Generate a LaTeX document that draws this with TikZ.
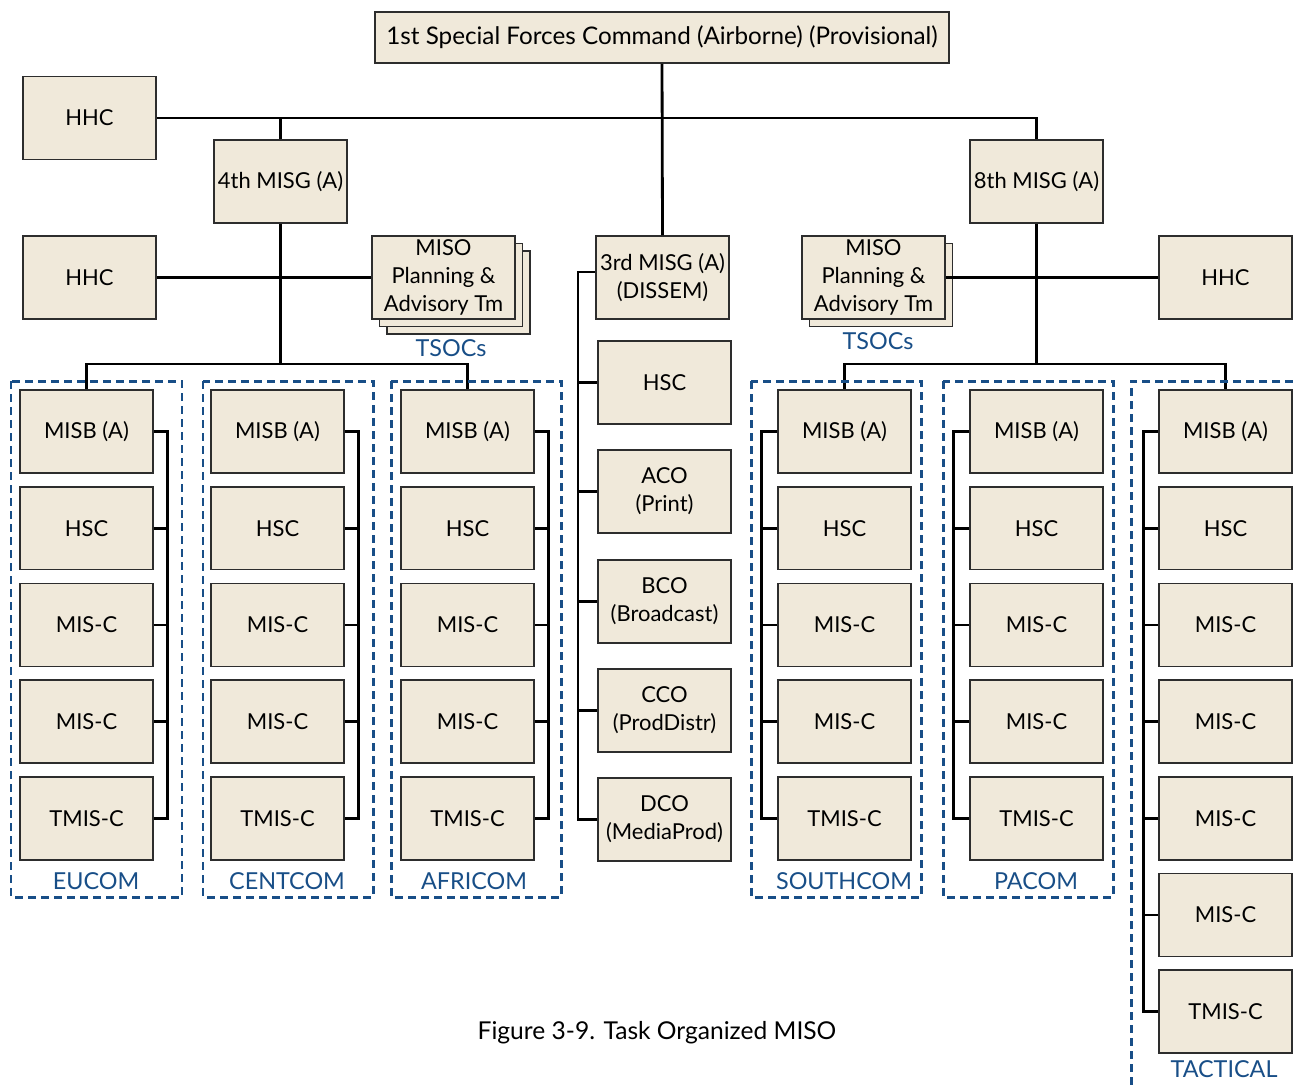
\documentclass[tikz,border=0pt]{standalone}
\usepackage{fontspec}
\setmainfont{Lato}
\usetikzlibrary{shadows}
\definecolor{boxfill}{RGB}{240,233,218}
\definecolor{boxline}{RGB}{45,45,45}
\definecolor{cmdblue}{RGB}{24,78,135}

\begin{document}
\begin{tikzpicture}[x=0.02cm,y=-0.02cm,
  unit/.style={draw=boxline,fill=boxfill,line width=0.9pt,minimum width=2.66cm,minimum height=1.66cm,
    inner sep=1pt,align=center,font=\fontsize{12.5}{16}\selectfont},
  stacked/.style={copy shadow={shadow xshift=8.5pt,shadow yshift=-8.5pt,fill=boxfill,draw=boxline},
    copy shadow={shadow xshift=4.2pt,shadow yshift=-4.2pt,fill=boxfill,draw=boxline}},
  single stack/.style={copy shadow={shadow xshift=4.2pt,shadow yshift=-4.2pt,fill=boxfill,draw=boxline}},
  conn/.style={line width=1.6pt,black},
  grp/.style={draw=cmdblue,line width=1.7pt,dash pattern=on 4.6pt off 2.8pt},
  lbl/.style={text=cmdblue,inner sep=1pt,font=\fontsize{13.3}{16}\selectfont}]
  \useasboundingbox (0,0) rectangle (1293,1086);

  % Command level
  \node[unit,minimum width=11.48cm,minimum height=1.02cm,font=\fontsize{13.8}{16}\selectfont] (top) at (662,37.5)
    {1st Special Forces Command (Airborne) (Provisional)};
  \node[unit] (hhc1) at (89.5,118) {HHC};
  \node[unit] (misg4) at (280.5,181.5) {4th MISG (A)};
  \node[unit] (misg8) at (1036.5,181.5) {8th MISG (A)};
  \node[unit] (misg3) at (662.5,277.5) {3rd MISG (A)\\(DISSEM)};

  % Group level
  \node[unit] (hhc2) at (89.5,277.5) {HHC};
  \node[unit] (hhc3) at (1225.5,277.5) {HHC};
  \node[unit,stacked,minimum width=2.86cm] (miso4) at (443.5,277.5) {MISO\\Planning \&\\Advisory Tm};
  \node[unit,single stack,minimum width=2.86cm] (miso8) at (873.5,277.5) {MISO\\Planning \&\\Advisory Tm};
  \node[lbl] (tsoc4) at (451,348) {TSOCs};
  \node[lbl] (tsoc8) at (878,341) {TSOCs};

  \draw[conn] (top.south) -- (misg3.north);
  \draw[conn] (hhc1.east) -- (misg8.north |- hhc1.east) -- (misg8.north);
  \draw[conn] (misg4.north |- hhc1.east) -- (misg4.north);
  \draw[conn] (hhc2.east) -- (miso4.west);
  \draw[conn] (miso8.east) -- (hhc3.west);

  % Regional battalions, lines on the right
  \foreach \grp/\cx in {eu/86.5, cent/277.5, afr/467.5} {
    \foreach \txt [count=\i] in {MISB (A), HSC, MIS-C, MIS-C, TMIS-C}
      \node[unit] (\grp\i) at (\cx,{431.5+(\i-1)*96.7}) {\txt};
    \draw[conn] (\grp1.east) -- ++(14,0) |- (\grp5.east);
    \foreach \i in {2,3,4}
      \draw[conn] (\grp\i.east) -- ++(14,0);
  }

  % Regional battalions, lines on the left
  \foreach \grp/\cx in {so/844.5, pa/1036.5} {
    \foreach \txt [count=\i] in {MISB (A), HSC, MIS-C, MIS-C, TMIS-C}
      \node[unit] (\grp\i) at (\cx,{431.5+(\i-1)*96.7}) {\txt};
    \draw[conn] (\grp1.west) -- ++(-16,0) |- (\grp5.west);
    \foreach \i in {2,3,4}
      \draw[conn] (\grp\i.west) -- ++(-16,0);
  }

  % Tactical battalion
  \foreach \txt [count=\i] in {MISB (A), HSC, MIS-C, MIS-C, MIS-C, MIS-C, TMIS-C}
    \node[unit] (tac\i) at (1225.5,{431.5+(\i-1)*96.7}) {\txt};
  \draw[conn] (tac1.west) -- ++(-15,0) |- (tac7.west);
  \foreach \i in {2,...,6}
    \draw[conn] (tac\i.west) -- ++(-15,0);

  % Buses from the groups
  \coordinate (bus4) at (280.5,364);
  \coordinate (bus8) at (1036.5,364);
  \draw[conn] (misg4.south) -- (bus4);
  \draw[conn] (eu1.north) |- (bus4) -| (afr1.north);
  \draw[conn] (misg8.south) -- (bus8);
  \draw[conn] (so1.north) |- (bus8) -| (tac1.north);

  % Dissemination companies
  \node[unit] (hsc) at (664.5,382.5) {HSC};
  \node[unit] (aco) at (664.5,491.5) {ACO\\(Print)};
  \node[unit] (bco) at (664.5,601.5) {BCO\\(Broadcast)};
  \node[unit] (cco) at (664.5,710.5) {CCO\\(ProdDistr)};
  \node[unit] (dco) at (664.5,819.5) {DCO\\(MediaProd)};
  \coordinate (cbus) at (578,272);
  \draw[conn] (misg3.west |- cbus) -- (cbus) |- (dco.west);
  \foreach \n in {hsc,aco,bco,cco}
    \draw[conn] (cbus |- \n.west) -- (\n.west);

  % Theatre outlines
  \draw[grp] (11,381) rectangle (182,897);
  \draw[grp] (203,381) rectangle (373,897);
  \draw[grp] (391,381) rectangle (561,897);
  \draw[grp] (751,381) rectangle (921,897);
  \draw[grp] (943,381) rectangle (1113,897);
  \draw[grp] (1293,381) -- (1131,381) -- (1131,1086);

  \node[lbl] (eulbl) at (96,881) {EUCOM};
  \node[lbl] (centlbl) at (287,881) {CENTCOM};
  \node[lbl] (afrlbl) at (474,881) {AFRICOM};
  \node[lbl] (solbl) at (844,881) {SOUTHCOM};
  \node[lbl] (palbl) at (1036,881) {PACOM};
  \node[lbl] (taclbl) at (1224,1069) {TACTICAL};

  % Caption
  \node[font=\fontsize{14}{16}\selectfont] (caption) at (657,1033) {Figure 3-9. Task Organized MISO};
\end{tikzpicture}
\end{document}
